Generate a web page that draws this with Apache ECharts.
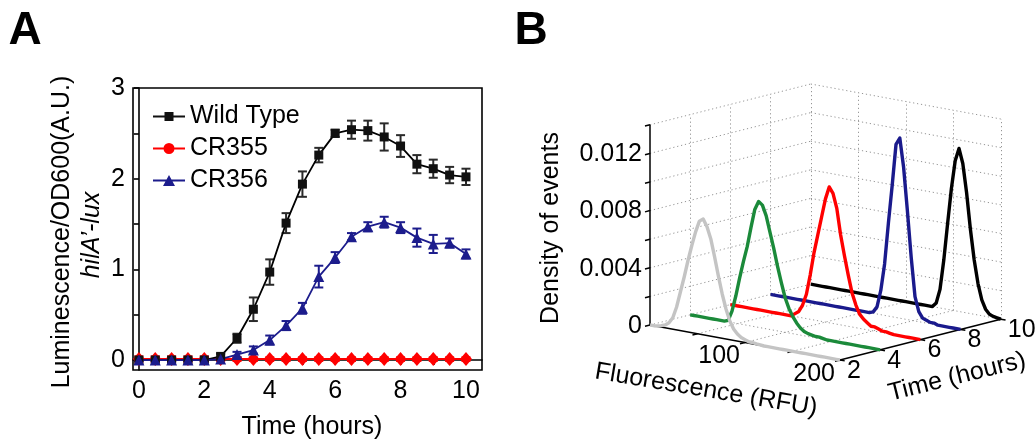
<!DOCTYPE html>
<html><head><meta charset="utf-8">
<script src="https://cdn.jsdelivr.net/npm/echarts@6/dist/echarts.min.js"></script>
<style>html,body{margin:0;padding:0;background:#fff}#c{width:1036px;height:441px}</style>
</head><body><div id="c"></div>
<script>
const FONT = '"Liberation Sans", Arial, Helvetica, sans-serif';

// ---------- Panel A data ----------
const hours = [0,0.5,1,1.5,2,2.5,3,3.5,4,4.5,5,5.5,6,6.5,7,7.5,8,8.5,9,9.5,10];
const wildType    = [0,0,0,0,0,0.04,0.24,0.56,0.97,1.51,1.94,2.26,2.50,2.54,2.53,2.46,2.36,2.16,2.11,2.04,2.02];
const wildTypeErr = [0.01,0.01,0.01,0.01,0.01,0.03,0.05,0.13,0.14,0.11,0.14,0.08,0.04,0.10,0.11,0.15,0.12,0.10,0.10,0.09,0.09];
const cr355       = [0.01,0.01,0.01,0.01,0.01,0.01,0.01,0.01,0.01,0.01,0.01,0.01,0.01,0.01,0.01,0.01,0.01,0.01,0.01,0.01,0.01];
const cr355Err    = [0.03,0.03,0.03,0.03,0.03,0.02,0.02,0.02,0.02,0.02,0.02,0.02,0.02,0.02,0.02,0.02,0.02,0.02,0.02,0.02,0.02];
const cr356       = [0,0,0,0,0,0.01,0.06,0.11,0.22,0.38,0.57,0.92,1.13,1.36,1.47,1.52,1.46,1.35,1.28,1.29,1.17];
const cr356Err    = [0.01,0.01,0.01,0.01,0.01,0.01,0.03,0.04,0.05,0.05,0.06,0.12,0.06,0.04,0.05,0.06,0.06,0.10,0.10,0.05,0.05];
const xTicksA = [0,1,2,3,4,5,6,7,8,9,10];
const xLabelsA = [0,2,4,6,8,10];
const yTicksA = [0,0.5,1,1.5,2,2.5,3];
const yLabelsA = [0,1,2,3];

// ---------- Panel B data ----------
const fluorBins = [0,4,8,12,16,20,24,28,32,36,40,44,48,52,56,60,64,68,72,76,80,84,88,92,96,100,
  104,108,112,116,120,124,128,132,136,140,144,148,152,156,160,164,168,172,176,180,184,188,192,196,200];
const hist2h = [0,0,0.00003,0.0001,0.0002,0.0004,0.0008,0.0016,0.0027,0.0038,0.0050,0.0061,0.0071,0.0079,0.0081,0.0076,
  0.0068,0.0056,0.0043,0.0031,0.0021,0.0013,0.0008,0.0005,0.0003,0.0002,0.0001,0.0001,0.00005,0.00003,
  0,0,0,0,0,0,0,0,0,0,0,0,0,0,0,0,0,0,0,0,0];
const hist4h = [0,0,0,0,0,0,0,0,0,0,
  0.0001,0.0008,0.0019,0.0032,0.0044,0.0055,0.0069,0.0082,0.0088,0.0086,0.0079,0.0068,0.0057,0.0045,0.0034,0.0024,
  0.0017,0.0012,0.0008,0.0005,0.0003,0.0002,0.00015,0.0001,0.0001,0.00005,
  0,0,0,0,0,0,0,0,0,0,0,0,0,0,0];
const hist6h = [0,0,0,0,0,0,0,0,0,0,0,0,0,0,0,0,0,
  0.0002,0.0004,0.0009,0.0017,0.0031,0.0047,0.0060,0.0073,0.0086,0.0095,0.0091,0.0081,0.0063,0.0049,0.0036,0.0024,
  0.0016,0.0010,0.0007,0.0005,0.0003,0.0003,0.0002,0.0001,0.0001,0.00005,
  0,0,0,0,0,0,0,0];
const hist8h = [0,0,0,0,0,0,0,0,0,0,0,0,0,0,0,0,0,0,0,0,0,0,0,0,0,0,0,
  0.0001,0.0005,0.0017,0.0036,0.0065,0.0092,0.0121,0.0126,0.0106,0.0076,0.0044,0.0017,0.0007,0.0003,0.0002,0.0001,0.0001,
  0,0,0,0,0,0,0];
const hist10h = [0,0,0,0,0,0,0,0,0,0,0,0,0,0,0,0,0,0,0,0,0,0,0,0,0,0,0,0,0,0,0,0,0,
  0.0003,0.0013,0.0034,0.0060,0.0085,0.0105,0.0114,0.0104,0.0084,0.0059,0.0038,0.0022,0.0011,0.0005,0.0002,0.0001,0.00005,0];
const histTimes = [2,4,6,8,10];
const zTickLabels = [0,0.004,0.008,0.012];
const zGridValues = [0.002,0.004,0.006,0.008,0.010,0.012,0.014];
const fluorGridValues = [50,100,150,200];
const fluorTickLabels = [100,200];
const timeTickLabels = [2,4,6,8,10];
const fluorRange = [0,200], timeRange = [2,10], zRange = [0,0.014];

// ---------- oblique projection of the 3-D box (layout constants) ----------
const P = { ox: 650, oy: 325, fx: 0.95, fy: 0.175, tx: 20.1, ty: -5.1, zs: 14300 };
function proj(f, t, z) {
  return [P.ox + f * P.fx + (t - timeRange[0]) * P.tx,
          P.oy + f * P.fy + (t - timeRange[0]) * P.ty - z * P.zs];
}
function seg(a, b) { return { coords: [a, b] }; }

const [f0, f1] = fluorRange, [t0, t1] = timeRange, [z0, z1] = zRange;
const dotted = [];
zGridValues.forEach(z => { dotted.push(seg(proj(f0,t0,z), proj(f0,t1,z))); dotted.push(seg(proj(f0,t1,z), proj(f1,t1,z))); });
[4,6,8,10].forEach(t => dotted.push(seg(proj(f0,t,z0), proj(f0,t,z1))));
fluorGridValues.forEach(f => dotted.push(seg(proj(f,t1,z0), proj(f,t1,z1))));
[4,6,8,10].forEach(t => dotted.push(seg(proj(f0,t,z0), proj(f1,t,z0))));
[0,50,100,150].forEach(f => dotted.push(seg(proj(f,t0,z0), proj(f,t1,z0))));

const solid = [
  seg(proj(f0,t0,z0), proj(f0,t0,z1)),
  seg(proj(f0,t0,z0), proj(f1,t0,z0)),
  seg(proj(f1,t0,z0), proj(f1,t1,z0))
];
[0,0.002,0.004,0.006,0.008,0.010,0.012,0.014].forEach(z => solid.push(seg(proj(f0,t0,z), proj(f0,t0-0.25,z))));
fluorGridValues.forEach(f => solid.push(seg(proj(f,t0,z0), proj(f,t0-0.25,z0))));
timeTickLabels.forEach(t => solid.push(seg(proj(f1,t,z0), proj(f1+5,t,z0))));

const histData = [hist2h, hist4h, hist6h, hist8h, hist10h];
const histColors = ['#c4c4c4', '#1b8a3a', '#ff0000', '#1a1a8c', '#000000'];
const histSeries = [];
for (let k = histTimes.length - 1; k >= 0; k--) {
  histSeries.push({
    type: 'line', xAxisIndex: 1, yAxisIndex: 1, showSymbol: false, symbol: 'none',
    data: fluorBins.map((f, i) => proj(f, histTimes[k], histData[k][i])),
    lineStyle: { color: histColors[k], width: 3.4, join: 'round' }, silent: true, animation: false, z: 5
  });
}

// ---------- panel A error bars ----------
function errSeries(vals, errs, color) {
  return {
    type: 'custom', xAxisIndex: 0, yAxisIndex: 0, silent: true, animation: false, z: 3,
    data: hours.map((h, i) => [h, vals[i], errs[i]]),
    renderItem: function (params, api) {
      const x = api.value(0), y = api.value(1), e = api.value(2);
      const lo = api.coord([x, y - e]), hi = api.coord([x, y + e]);
      const w = 4.5, st = { stroke: color, lineWidth: 2 };
      return { type: 'group', children: [
        { type: 'line', shape: { x1: lo[0], y1: lo[1], x2: hi[0], y2: hi[1] }, style: st },
        { type: 'line', shape: { x1: lo[0]-w, y1: lo[1], x2: lo[0]+w, y2: lo[1] }, style: st },
        { type: 'line', shape: { x1: hi[0]-w, y1: hi[1], x2: hi[0]+w, y2: hi[1] }, style: st }
      ]};
    }
  };
}

const BLUE = '#1c1c8c';
const graphics = [
  { type: 'text', x: 25, y: 31, style: { text: 'A', font: 'bold 46px ' + FONT, fill: '#000', align: 'center', verticalAlign: 'middle' } },
  { type: 'text', x: 531, y: 31, style: { text: 'B', font: 'bold 46px ' + FONT, fill: '#000', align: 'center', verticalAlign: 'middle' } },
  { type: 'text', x: 62, y: 232, rotation: Math.PI / 2, style: { text: 'Luminescence/OD600(A.U.)', font: '25px ' + FONT, fill: '#000', align: 'center', verticalAlign: 'middle' } },
  { type: 'text', x: 92, y: 235, rotation: Math.PI / 2, style: { text: 'hilA\u2019-lux', font: 'italic 25px ' + FONT, fill: '#000', align: 'center', verticalAlign: 'middle' } },
  { type: 'text', x: 312, y: 427, style: { text: 'Time (hours)', font: '25px ' + FONT, fill: '#000', align: 'center', verticalAlign: 'middle' } },
  { type: 'text', x: 551, y: 228, rotation: Math.PI / 2, style: { text: 'Density of events', font: '25px ' + FONT, fill: '#000', align: 'center', verticalAlign: 'middle' } },
  { type: 'text', x: 706, y: 390, rotation: -9.5 * Math.PI / 180, style: { text: 'Fluorescence (RFU)', font: '25px ' + FONT, fill: '#000', align: 'center', verticalAlign: 'middle' } },
  { type: 'text', x: 957, y: 377, rotation: 14 * Math.PI / 180, style: { text: 'Time (hours)', font: '25px ' + FONT, fill: '#000', align: 'center', verticalAlign: 'middle' } }
];
zTickLabels.forEach(z => { const p = proj(f0, t0, z); graphics.push({ type: 'text', x: p[0] - 8, y: p[1] + 1, style: { text: String(z), font: '25px ' + FONT, fill: '#000', align: 'right', verticalAlign: 'middle' } }); });
fluorTickLabels.forEach(f => { const p = proj(f, t0, z0); graphics.push({ type: 'text', x: p[0] - 5, y: p[1] + 14, style: { text: String(f), font: '25px ' + FONT, fill: '#000', align: 'right', verticalAlign: 'middle' } }); });
timeTickLabels.forEach(t => { const p = proj(f1, t, z0); graphics.push({ type: 'text', x: p[0] + 7, y: p[1] + 11, style: { text: String(t), font: '25px ' + FONT, fill: '#000', align: 'left', verticalAlign: 'middle' } }); });

const chart = echarts.init(document.getElementById('c'), null, { renderer: 'canvas' });
chart.setOption({
  animation: false,
  backgroundColor: '#fff',
  textStyle: { fontFamily: FONT },
  grid: [
    { left: 133, top: 88, width: 349, height: 282, show: true, borderColor: '#000', borderWidth: 1.6, backgroundColor: 'transparent' },
    { left: 0, top: 0, width: 1036, height: 441 }
  ],
  xAxis: [
    { gridIndex: 0, type: 'value', min: -0.18, max: 10.49,
      axisLine: { show: true, lineStyle: { color: '#000', width: 1.6 } },
      axisTick: { show: true, customValues: xTicksA, length: 5, lineStyle: { color: '#000', width: 1.6 } },
      axisLabel: { customValues: xLabelsA, color: '#000', fontSize: 25, fontFamily: FONT, margin: 9 },
      splitLine: { show: false } },
    { gridIndex: 1, type: 'value', min: 0, max: 1036, show: false }
  ],
  yAxis: [
    { gridIndex: 0, type: 'value', min: -0.11, max: 3,
      axisLine: { show: true, lineStyle: { color: '#000', width: 1.6 } },
      axisTick: { show: true, customValues: yTicksA, length: 5, lineStyle: { color: '#000', width: 1.6 } },
      axisLabel: { customValues: yLabelsA, color: '#000', fontSize: 25, fontFamily: FONT, margin: 8 },
      splitLine: { show: false } },
    { gridIndex: 1, type: 'value', min: 0, max: 441, inverse: true, show: false }
  ],
  legend: {
    orient: 'vertical', left: 148, top: 99, itemWidth: 32, itemHeight: 12, itemGap: 7,
    textStyle: { fontSize: 25, color: '#000', fontFamily: FONT, padding: [0, 0, 0, 0] },
    selectedMode: false,
    data: [
      { name: 'Wild Type', icon: 'path://M0,5H32V7H0Z M11.5,1.5H20.5V10.5H11.5Z' },
      { name: 'CR355', icon: 'path://M0,5H32V7H0Z M21.5,6A5.5,5.5,0,1,1,10.5,6A5.5,5.5,0,1,1,21.5,6Z' },
      { name: 'CR356', icon: 'path://M0,5H32V7H0Z M16,0.5L22,11.5H10Z' }
    ]
  },
  graphic: graphics,
  series: [
    errSeries(cr355, cr355Err, '#ff0000'),
    { name: 'CR355', type: 'line', xAxisIndex: 0, yAxisIndex: 0, data: hours.map((h, i) => [h, cr355[i]]),
      symbol: 'diamond', symbolSize: [12, 14], itemStyle: { color: '#ff0000' }, lineStyle: { color: '#ff0000', width: 2 }, z: 3 },
    errSeries(wildType, wildTypeErr, '#2a2a2a'),
    { name: 'Wild Type', type: 'line', xAxisIndex: 0, yAxisIndex: 0, data: hours.map((h, i) => [h, wildType[i]]),
      symbol: 'rect', symbolSize: 9, itemStyle: { color: '#111' }, lineStyle: { color: '#000', width: 1.8 }, z: 4 },
    errSeries(cr356, cr356Err, BLUE),
    { name: 'CR356', type: 'line', xAxisIndex: 0, yAxisIndex: 0, data: hours.map((h, i) => [h, cr356[i]]),
      symbol: 'triangle', symbolSize: 11, itemStyle: { color: BLUE }, lineStyle: { color: BLUE, width: 1.8 }, z: 4 },
    { type: 'lines', coordinateSystem: 'cartesian2d', xAxisIndex: 1, yAxisIndex: 1, data: dotted, silent: true, animation: false,
      lineStyle: { color: '#959595', width: 1, type: [1.2, 2.8], opacity: 1 }, z: 1 },
    { type: 'lines', coordinateSystem: 'cartesian2d', xAxisIndex: 1, yAxisIndex: 1, data: solid, silent: true, animation: false,
      lineStyle: { color: '#000', width: 1.5, opacity: 1 }, z: 2 }
  ].concat(histSeries)
});
</script></body></html>
